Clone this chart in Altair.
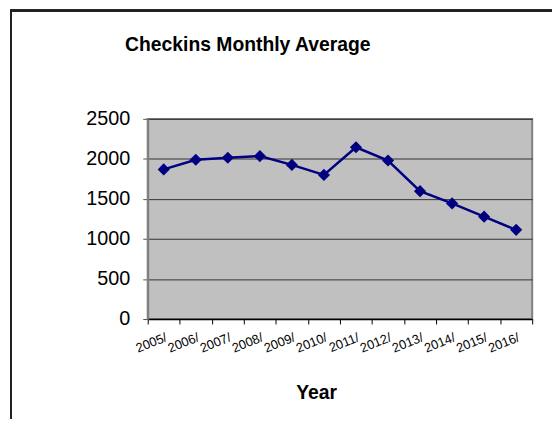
import altair as alt
import pandas as pd

years = ["2005/", "2006/", "2007/", "2008/", "2009/", "2010/",
         "2011/", "2012/", "2013/", "2014/", "2015/", "2016/"]
checkins = [1869, 1990, 2015, 2035, 1925, 1800, 2145, 1980, 1597, 1444, 1279, 1114]
y_ticks = [0, 500, 1000, 1500, 2000, 2500]

df = pd.DataFrame({"year": years, "avg": checkins})

FONT = "Liberation Sans"
NAVY = "#000080"

x_enc = alt.X(
    "year:N",
    sort=years,
    bandPosition=0.5,
    scale=alt.Scale(type="band", paddingInner=0, paddingOuter=0),
    axis=alt.Axis(
        title="Year",
        titleFont=FONT, titleFontSize=19.5, titleFontWeight="bold", titleColor="#000",
        titleX=170, titleY=80, titleBaseline="alphabetic", titleAlign="center",
        labelFont=FONT, labelFontSize=13, labelColor="#000",
        labelAngle=338, labelAlign="right", labelBaseline="top", labelPadding=7,
        labelOverlap=False,
        tickBand="extent", tickSize=5, tickColor="#000", tickWidth=1,
        domainColor="#000", domainWidth=1.5, grid=False,
    ),
)
y_enc = alt.Y(
    "avg:Q",
    scale=alt.Scale(domain=[0, 2500], nice=False, zero=True),
    axis=alt.Axis(
        title=None, values=y_ticks, format="d",
        labelFont=FONT, labelFontSize=20, labelColor="#000", labelPadding=13,
        labelBaseline="middle",
        tickSize=5, tickColor="#555", tickWidth=1,
        domainColor="#808080", domainWidth=2,
        grid=True, gridColor="#333333", gridWidth=1,
    ),
)

base = alt.Chart(df)
line = base.mark_line(color=NAVY, strokeWidth=2.5).encode(x=x_enc, y=y_enc)
pts = base.mark_point(shape="diamond", filled=True, size=150, color=NAVY, opacity=1).encode(x=x_enc, y=y_enc)

frame_v = alt.Chart(df).mark_rule(color="#222", strokeWidth=1.5).encode(
    x=alt.value(-138), y=alt.value(-110), y2=alt.value(320))
frame_h = alt.Chart(df).mark_rule(color="#222", strokeWidth=2).encode(
    x=alt.value(-138), x2=alt.value(420), y=alt.value(-109))

chart = alt.layer(frame_v, frame_h, line, pts).properties(
    width=388, height=202,
    background="white",
    autosize=alt.AutoSizeParams(type="none"),
    padding={"left": 141, "top": 110, "right": 20, "bottom": 99},
    title=alt.TitleParams(
        "Checkins Monthly Average", font=FONT, fontSize=19.5, fontWeight="bold",
        color="#000", anchor="middle", frame="group", orient="top",
        offset=0, dx=-93, dy=62, baseline="alphabetic",
    ),
).configure_view(
    fill="#C0C0C0", stroke="#808080", strokeWidth=2
)

chart.save("out.html", embed_options={"renderer": "svg", "actions": False})
